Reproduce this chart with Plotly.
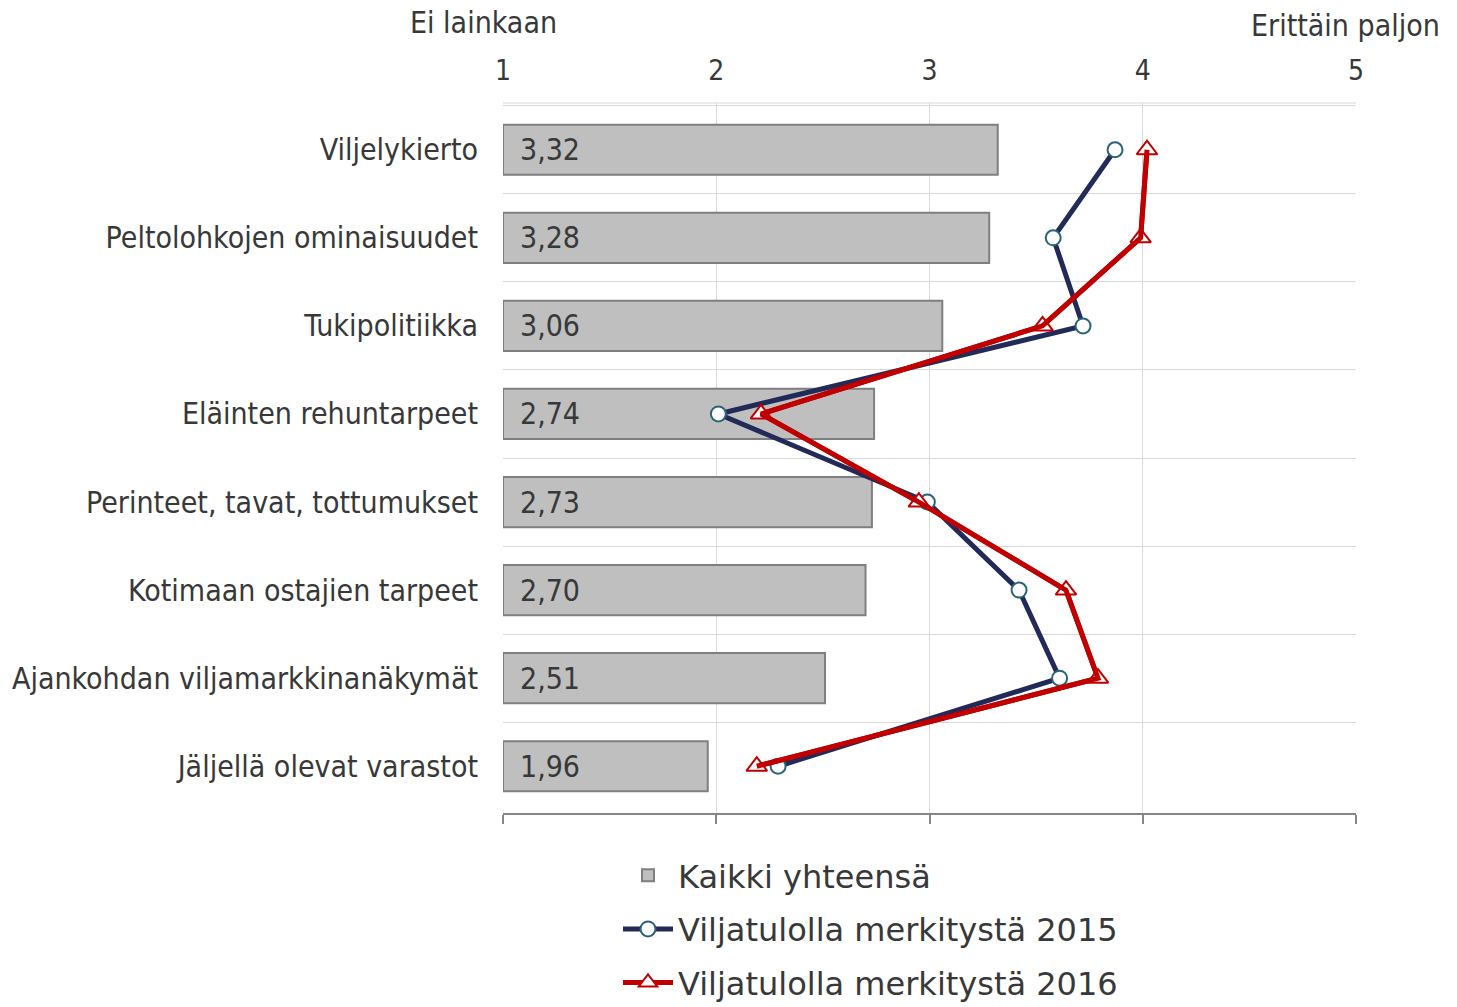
import plotly.graph_objects as go

categories = ["Viljelykierto", "Peltolohkojen ominaisuudet", "Tukipolitiikka",
              "Eläinten rehuntarpeet", "Perinteet, tavat, tottumukset",
              "Kotimaan ostajien tarpeet", "Ajankohdan viljamarkkinanäkymät",
              "Jäljellä olevat varastot"]
kaikki = [3.32, 3.28, 3.06, 2.74, 2.73, 2.70, 2.51, 1.96]
v2015 = [3.87, 3.58, 3.72, 2.01, 2.99, 3.42, 3.61, 2.29]
v2016 = [4.02, 3.99, 3.53, 2.21, 2.95, 3.64, 3.79, 2.19]
xticks = [1, 2, 3, 4, 5]

FONT = "DejaVu Sans"
CFONT = "DejaVu Sans Condensed, Liberation Sans Narrow, DejaVu Sans"
TXT = "#383838"
NAVY = "#222B58"
RED = "#C00000"

W, H = 1457, 1007
L, T, R, B = 503, 103, 101, 194
pw = W - L - R
ph = H - T - B

fig = go.Figure()
fig.add_trace(go.Bar(
    y=categories, x=[v - 1 for v in kaikki], base=1, orientation="h",
    name="Kaikki yhteensä", legendgroup="a",
    marker=dict(color="#BFBFBF", line=dict(color="#7F7F7F", width=2)),
    width=0.57,
    text=["\u00a0\u2009" + f"{v:.2f}".replace(".", ",") for v in kaikki],
    textposition="inside", insidetextanchor="start",
    textfont=dict(family=CFONT, size=30, color=TXT),
    hoverinfo="skip",
))
fig.add_trace(go.Scatter(
    y=categories, x=v2015, mode="lines+markers", name="Viljatulolla merkitystä 2015",
    legendgroup="b",
    line=dict(color=NAVY, width=5),
    marker=dict(symbol="circle", size=15, color="white",
                line=dict(color="#2A6475", width=2)),
))
fig.add_trace(go.Scatter(
    y=categories, x=v2016, mode="lines+markers", name="Viljatulolla merkitystä 2016",
    legendgroup="c",
    line=dict(color=RED, width=5),
    marker=dict(symbol="triangle-up", size=18, color="white",
                line=dict(color=RED, width=2)),
))
# 2016 line drawn again on top of its markers, as in the reference
fig.add_trace(go.Scatter(
    y=categories, x=v2016, mode="lines", showlegend=False, legendgroup="c",
    line=dict(color=RED, width=5), hoverinfo="skip",
))

fig.update_layout(
    width=W, height=H,
    margin=dict(l=L, r=R, t=T, b=B, autoexpand=False),
    paper_bgcolor="white", plot_bgcolor="white",
    font=dict(family=CFONT, color=TXT, size=30),
    showlegend=True,
    legend=dict(x=(618 - L) / pw, y=-(848 - (H - B)) / ph, xanchor="left", yanchor="top",
                orientation="v", font=dict(family=FONT, size=32, color=TXT),
                tracegroupgap=9, itemwidth=50),
    xaxis=dict(range=[1, 5], side="top", tickvals=xticks, automargin=False,
               showgrid=True, gridcolor="#D9D9D9", gridwidth=1,
               showline=False, ticks="", zeroline=False, ticklabelstandoff=16,
               tickfont=dict(family=CFONT, size=28, color=TXT)),
    xaxis2=dict(range=[1, 5], overlaying="x", side="bottom", tickvals=xticks,
                automargin=False,
                showticklabels=False, showgrid=False, showline=True,
                linecolor="#868686", linewidth=2, ticks="outside",
                ticklen=9, tickcolor="#868686", tickwidth=2),
    yaxis=dict(categoryorder="array", categoryarray=categories,
               autorange="reversed", tickson="boundaries", automargin=False,
               showgrid=True, gridcolor="#D9D9D9", gridwidth=1,
               ticks="", showline=False, ticklabelstandoff=24,
               tickfont=dict(family=CFONT, size=30, color=TXT)),
    bargap=0.43,
)
# invisible trace to activate the bottom axis
fig.add_trace(go.Scatter(x=[1], y=[categories[0]], xaxis="x2", mode="markers",
                         marker=dict(opacity=0), showlegend=False, hoverinfo="skip"))
# top border line of plot area
fig.add_shape(type="line", xref="paper", yref="paper", x0=0, x1=1, y0=1, y1=1,
              line=dict(color="#D9D9D9", width=1))

def px(x):
    return (x - L) / pw

def py(y):
    return 1 + (T - y) / ph

fig.add_annotation(text="Ei lainkaan", xref="paper", yref="paper",
                   x=px(483), y=py(23), showarrow=False, xanchor="center", yanchor="middle",
                   borderpad=0, font=dict(family=CFONT, size=30, color=TXT))
fig.add_annotation(text="Erittäin paljon", xref="paper", yref="paper",
                   x=px(1441), y=py(26), showarrow=False, xanchor="right", yanchor="middle",
                   borderpad=0, font=dict(family=CFONT, size=30, color=TXT))

fig.write_html("out.html", config={"displayModeBar": False},
               post_script="document.body.style.margin='0';document.body.style.overflow='hidden';")
